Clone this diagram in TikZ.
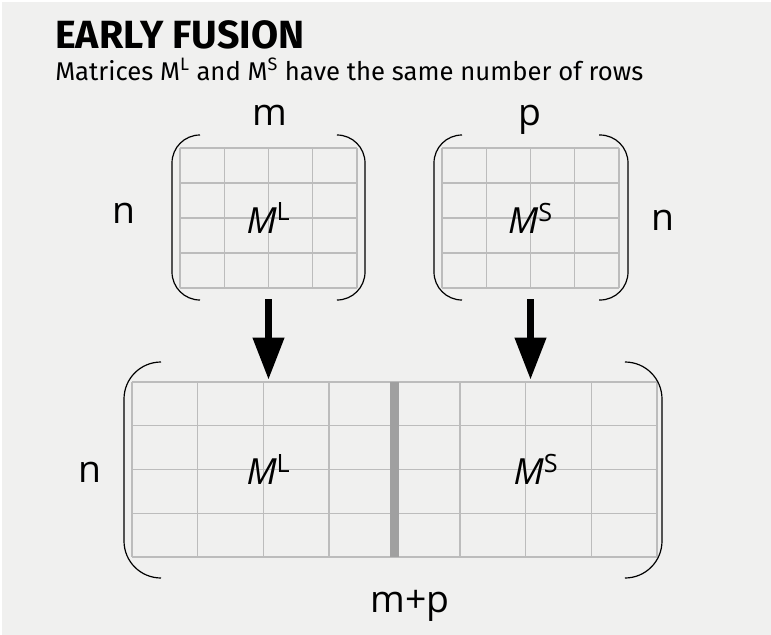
\documentclass[tikz,border=0pt]{standalone}
\usepackage{fontspec}
\setmainfont{Fira Sans}
\newfontfamily\labelfont{Open Sans}
\usetikzlibrary{arrows.meta,positioning}
\definecolor{bggray}{RGB}{240,240,239}
\definecolor{gridgray}{RGB}{188,188,188}
\definecolor{sepgray}{RGB}{160,160,160}

\begin{document}
\begin{tikzpicture}[x=0.75pt,y=0.75pt,yscale=-1,xscale=1,
  gridline/.style={draw=gridgray,line width=1.1pt},
  bracket/.style={draw=black,line width=0.9pt},
  matbox/.style={inner sep=0pt,font=\labelfont\fontsize{27}{30}\selectfont},
  dimlabel/.style={inner sep=0pt,anchor=base,font=\labelfont\fontsize{28}{30}\selectfont},
  fuse/.style={line width=5.25pt,-{Triangle[width=22.5pt,length=31.5pt]}}]
%set diagram size 771 x 635
\useasboundingbox (0,0) rectangle (771,635);
\fill[white] (0,0) rectangle (771,635);
\fill[bggray] (2,2) rectangle (771,635);
%Title
\node[anchor=base west,inner sep=0pt,text depth=0pt,font=\bfseries\fontsize{29.5}{34}\selectfont] (title) at (55,49) {EARLY FUSION};
\node[anchor=base west,inner sep=0pt,text height=13.5pt,font=\fontsize{19.25}{22}\selectfont] (subtitle) at (55,81) {Matrices M\textsuperscript{L} and M\textsuperscript{S} have the same number of rows};
%Small matrix M^L
\foreach \c in {0,...,4} \draw[gridline] (180+\c*44.25,148) -- (180+\c*44.25,288);
\foreach \r in {0,...,4} \draw[gridline] (180,148+\r*35) -- (357,148+\r*35);
\node[matbox,minimum width=132.75pt,minimum height=105pt] (ML) at (268.5,218) {\itshape M\textsuperscript{\upshape L}};
\draw[bracket,rounded corners=21pt] (200,135) -- (172,135) -- (172,300) -- (200,300);
\draw[bracket,rounded corners=21pt] (338,135) -- (365,135) -- (365,300) -- (338,300);
%Small matrix M^S
\foreach \c in {0,...,4} \draw[gridline] (442+\c*44.25,148) -- (442+\c*44.25,288);
\foreach \r in {0,...,4} \draw[gridline] (442,148+\r*35) -- (619,148+\r*35);
\node[matbox,minimum width=132.75pt,minimum height=105pt] (MS) at (530.5,218) {\itshape M\textsuperscript{\upshape S}};
\draw[bracket,rounded corners=21pt] (462,135) -- (434,135) -- (434,300) -- (462,300);
\draw[bracket,rounded corners=21pt] (599,135) -- (628,135) -- (628,300) -- (599,300);
%Fused matrix
\foreach \c in {0,1,2,3,5,6,7,8} \draw[gridline] (132+\c*65.625,382) -- (132+\c*65.625,557);
\foreach \r in {0,...,4} \draw[gridline] (132,382+\r*43.75) -- (657,382+\r*43.75);
\draw[sepgray,line width=6.75pt] (394.5,382) -- (394.5,557);
\node[matbox,minimum width=393.75pt,minimum height=131.25pt] (MLS) at (394.5,469.5) {};
\node[matbox] (MLSl) at (268.5,469.5) {\itshape M\textsuperscript{\upshape L}};
\node[matbox] (MLSs) at (536,469.5) {\itshape M\textsuperscript{\upshape S}};
\draw[bracket,rounded corners=27.75pt] (161,362) -- (124,362) -- (124,578) -- (161,578);
\draw[bracket,rounded corners=27.75pt] (626,362) -- (662,362) -- (662,578) -- (626,578);
%Dimensions
\node[dimlabel] (m) at (269.5,125) {m};
\node[dimlabel] (p) at (529.5,125) {p};
\node[dimlabel] (nL) at (124,223) {n};
\node[dimlabel] (nS) at (663,230) {n};
\node[dimlabel] (nLS) at (90,482) {n};
\node[dimlabel] (mp) at (410,612) {m+p};
%Arrows
\draw[fuse] ([yshift=8.25pt]ML.south) -- ([yshift=-1.5pt]ML.south |- MLS.north);
\draw[fuse] ([yshift=8.25pt]MS.south) -- ([yshift=-1.5pt]MS.south |- MLS.north);
\end{tikzpicture}
\end{document}
